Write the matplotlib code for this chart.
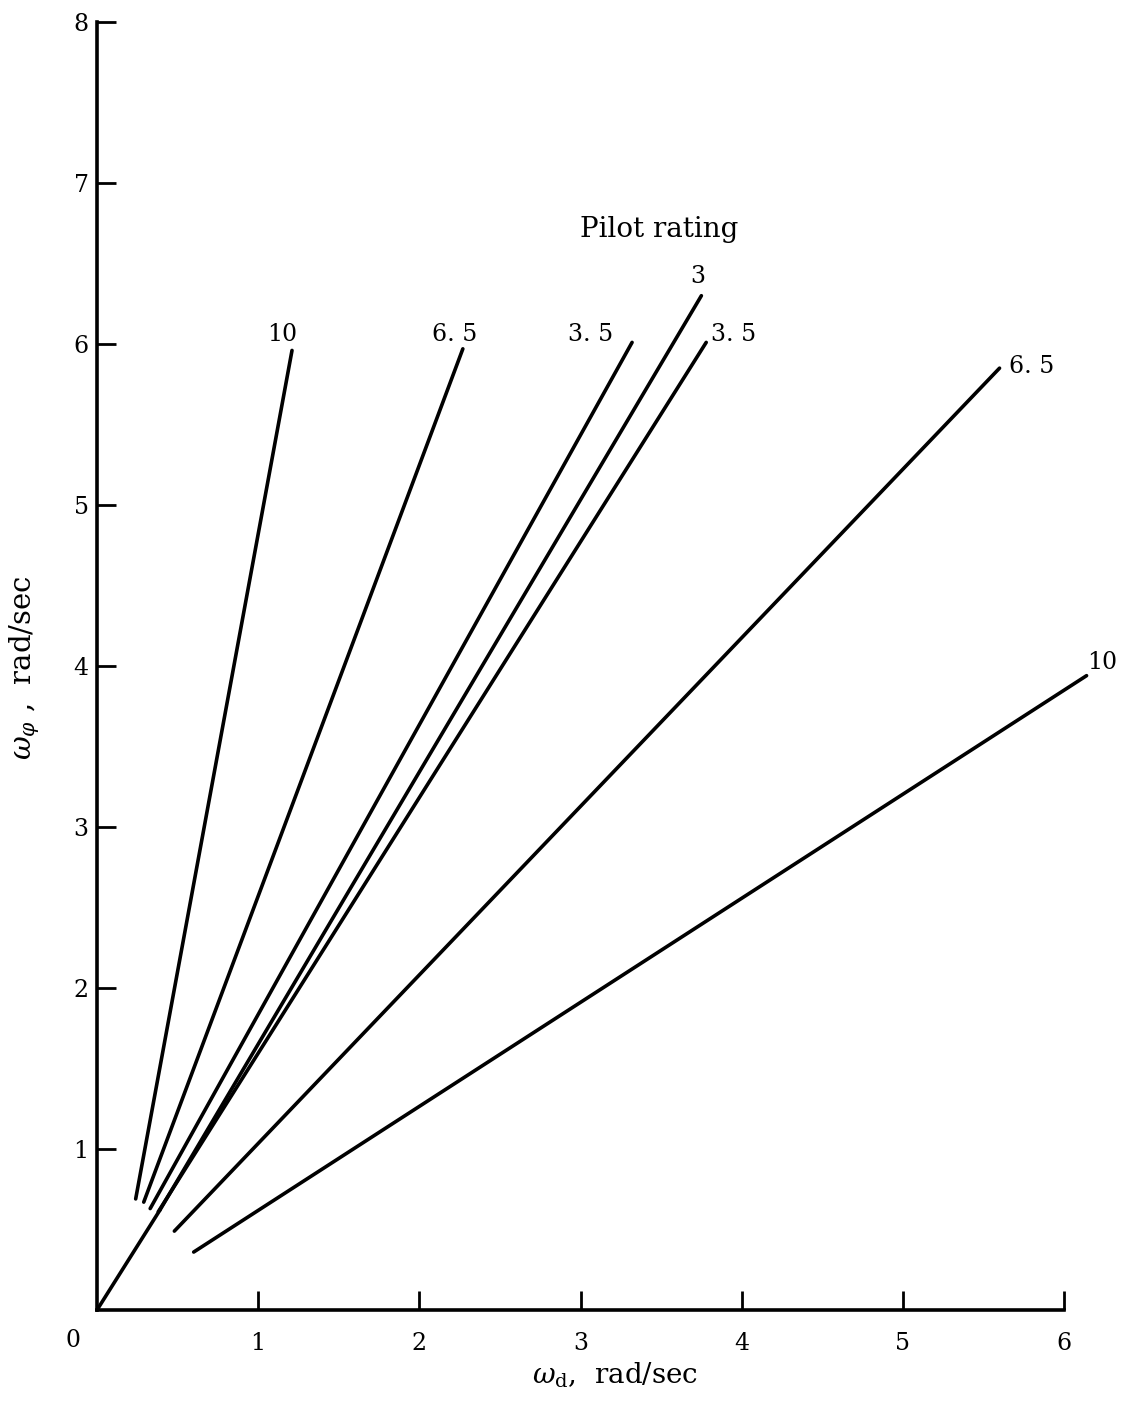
import matplotlib
matplotlib.use("Agg")
import matplotlib.pyplot as plt

plt.rcParams['font.family'] = ['DejaVu Serif']
plt.rcParams['mathtext.fontset'] = 'dejavuserif'

# Line segments (omega_d start, omega_phi start, omega_d end, omega_phi end)
ratings = ["10", "6.5", "3.5", "3", "3.5", "6.5", "10"]
x_start = [0.24, 0.29, 0.33, 0.39, 0.38, 0.48, 0.60]
y_start = [0.69, 0.67, 0.63, 0.62, 0.61, 0.49, 0.36]
x_end = [1.21, 2.27, 3.32, 3.75, 3.78, 5.60, 6.14]
y_end = [5.96, 5.97, 6.01, 6.30, 6.01, 5.85, 3.94]
# label positions
lab_x = [1.15, 2.22, 3.06, 3.73, 3.95, 5.80, 6.24]
lab_y = [6.06, 6.06, 6.06, 6.42, 6.06, 5.86, 4.02]
lab_text = ["10", "6. 5", "3. 5", "3", "3. 5", "6. 5", "10"]
# line from origin
origin_x = [0.0, 0.39]
origin_y = [0.0, 0.62]

xticks = [1, 2, 3, 4, 5, 6]
yticks = [1, 2, 3, 4, 5, 6, 7, 8]

W, H = 1128, 1403
fig = plt.figure(figsize=(W/100, H/100), dpi=100)
ax = fig.add_axes([97/W, 93/H, (1064-97)/W, (1310-22)/H])
ax.set_xlim(0, 6)
ax.set_ylim(0, 8)

lw = 2.6
for xs, ys, xe, ye in zip(x_start, y_start, x_end, y_end):
    ax.plot([xs, xe], [ys, ye], color='black', lw=lw, solid_capstyle='round', clip_on=False)
ax.plot(origin_x, origin_y, color='black', lw=lw, solid_capstyle='round', clip_on=False)

fs = 17
for t, lx, ly in zip(lab_text, lab_x, lab_y):
    ax.text(lx, ly, t, fontsize=fs, ha='center', va='center')
ax.text(3.49, 6.71, "Pilot rating", fontsize=20, ha='center', va='center')

for s in ['top', 'right']:
    ax.spines[s].set_visible(False)
for s in ['left', 'bottom']:
    ax.spines[s].set_linewidth(2.6)

ax.set_xticks(xticks)
ax.set_xticklabels([str(v) for v in xticks], fontsize=fs)
ax.set_yticks(yticks)
ax.set_yticklabels([str(v) for v in yticks], fontsize=fs)
ax.tick_params(axis='both', direction='in', length=14, width=2.0)
ax.tick_params(axis='y', pad=6)
ax.tick_params(axis='x', pad=16)
ax.text(-0.15, -0.19, "0", fontsize=fs, ha='center', va='center')

fig.text(615/W, 1 - 1375/H, r"$\omega_{\rm d}$,  rad/sec", fontsize=20, ha='center', va='center')
fig.text(25/W, 1 - 668/H, r"$\omega_\varphi$ ,  rad/sec", fontsize=21, ha='center', va='center', rotation=90)

fig.savefig("out.png", dpi=100)
